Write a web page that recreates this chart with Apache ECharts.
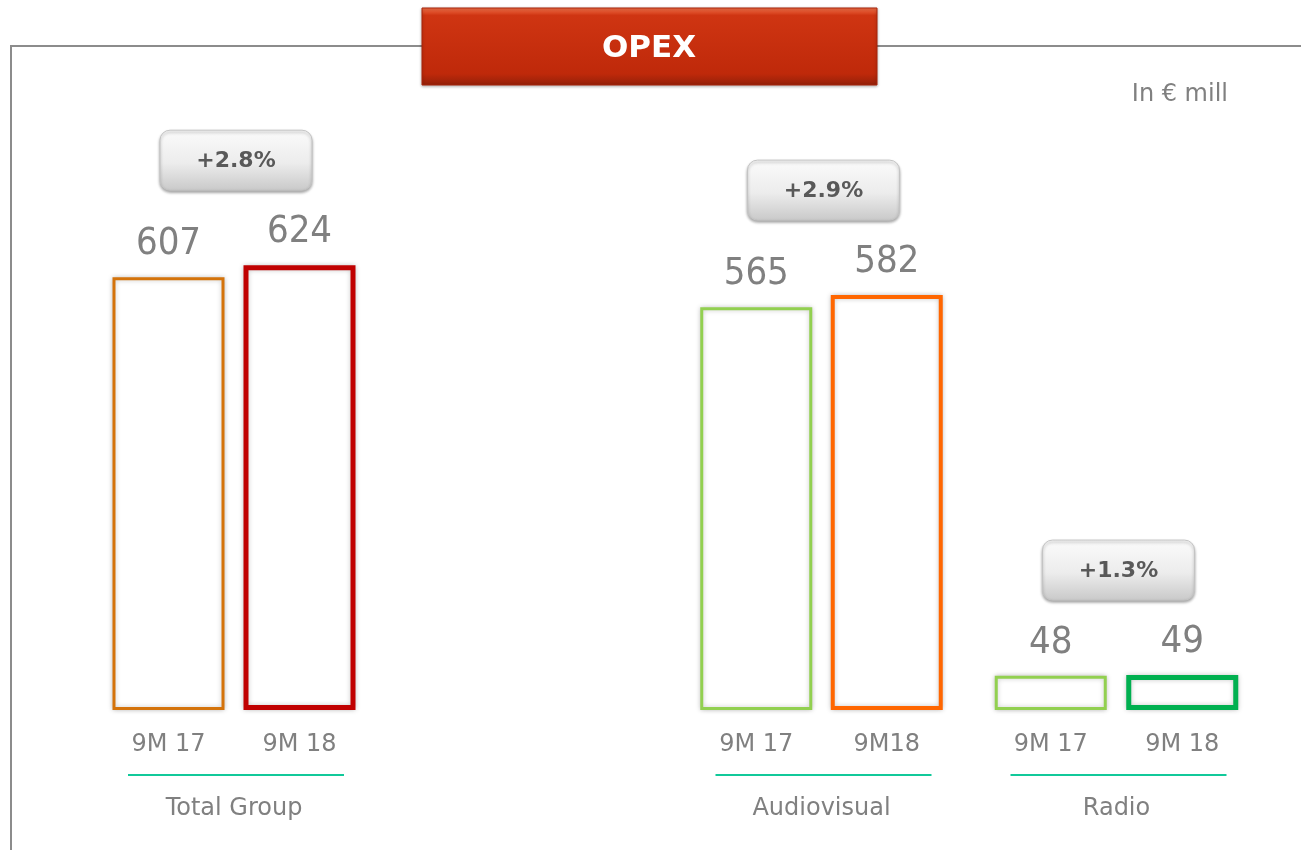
<!DOCTYPE html>
<html>
<head>
<meta charset="utf-8">
<script src="https://cdn.jsdelivr.net/npm/echarts@6/dist/echarts.min.js"></script>
<style>
  html, body { margin: 0; padding: 0; background: #fff; }
  #main { width: 1301px; height: 850px; }
</style>
</head>
<body>
<div id="main"></div>
<script>
// data
const groupNames = ['Total Group', 'Audiovisual', 'Radio'];
const periodLabels = [['9M 17', '9M 18'], ['9M 17', '9M18'], ['9M 17', '9M 18']];
const totalGroupValues = [607, 624];
const audiovisualValues = [565, 582];
const radioValues = [48, 49];
const growthLabels = ['+2.8%', '+2.9%', '+1.3%'];
const unitLabel = 'In € mill';
const titleText = 'OPEX';

const groupValues = [totalGroupValues, audiovisualValues, radioValues];
const barColors = [['#D4730B', '#C00000'], ['#92D050', '#FF6600'], ['#92D050', '#00B050']];
const borderWidths = [[3, 5], [3, 4], [3, 5]];
const gridBoxes = [[103, 262], [691, 261], [985, 263]];

const gray = '#808080';
const textFont = 'DejaVu Sans, Verdana, sans-serif';
const numFont = '"Liberation Sans Narrow", "DejaVu Sans Condensed", sans-serif';

const chart = echarts.init(document.getElementById('main'));

const grids = gridBoxes.map(b => ({ left: b[0], width: b[1], top: 211, bottom: 140 }));

const xAxes = periodLabels.map((labels, i) => ({
  type: 'category',
  gridIndex: i,
  data: labels,
  axisLine: { show: false },
  axisTick: { show: false },
  axisLabel: { color: gray, fontSize: 24, fontFamily: textFont, margin: 23 },
  name: groupNames[i],
  nameLocation: 'middle',
  nameGap: 87,
  nameTextStyle: { color: gray, fontSize: 24, fontFamily: textFont }
}));

const yAxes = groupNames.map((n, i) => ({
  type: 'value', gridIndex: i, min: 0, max: 700, show: false
}));

const series = groupValues.map((vals, i) => ({
  type: 'bar',
  xAxisIndex: i,
  yAxisIndex: i,
  barWidth: 112,
  data: vals.map((v, j) => ({
    value: v,
    itemStyle: {
      color: '#fff',
      borderColor: barColors[i][j],
      borderWidth: borderWidths[i][j],
      shadowBlur: 5,
      shadowColor: 'rgba(0,0,0,0.22)'
    }
  })),
  label: {
    show: true,
    position: 'top',
    distance: 14,
    color: gray,
    fontSize: 38,
    fontFamily: numFont
  },
  silent: true
}));

chart.setOption({
  animation: false,
  grid: grids,
  xAxis: xAxes,
  yAxis: yAxes,
  series: series
});

// decorations placed from the chart's own scales
const graphics = [
  // frame
  { type: 'polyline', shape: { points: [[11, 850], [11, 46], [422, 46]] }, style: { stroke: '#8c8c8c', lineWidth: 2, fill: null } },
  { type: 'line', shape: { x1: 877, y1: 46, x2: 1301, y2: 46 }, style: { stroke: '#8c8c8c', lineWidth: 2 } },
  // title box
  {
    type: 'rect', shape: { x: 422, y: 8, width: 455, height: 77 },
    style: {
      fill: new echarts.graphic.LinearGradient(0, 0, 0, 1, [
        { offset: 0, color: '#f7754c' },
        { offset: 0.1, color: '#cf3512' },
        { offset: 0.85, color: '#bf290a' },
        { offset: 1, color: '#932009' }
      ]),
      stroke: '#a8250b', lineWidth: 1,
      shadowBlur: 3, shadowColor: 'rgba(0,0,0,0.3)', shadowOffsetY: 1
    }
  },
  {
    type: 'text', x: 649, y: 49,
    style: { text: titleText, fill: '#fff', font: 'bold 31px ' + textFont, align: 'center', verticalAlign: 'middle' }
  },
  {
    type: 'text', x: 1228, y: 95,
    style: { text: unitLabel, fill: gray, font: '24px ' + textFont, align: 'right', verticalAlign: 'middle' }
  }
];

groupValues.forEach((vals, i) => {
  const p0 = chart.convertToPixel({ gridIndex: i }, [periodLabels[i][0], vals[0]]);
  const p1 = chart.convertToPixel({ gridIndex: i }, [periodLabels[i][1], vals[1]]);
  const base = chart.convertToPixel({ gridIndex: i }, [periodLabels[i][0], 0]);
  const midX = (p0[0] + p1[0]) / 2 + 2;
  const topY = Math.min(p0[1], p1[1]);
  graphics.push({
    type: 'line',
    shape: { x1: midX - 108, y1: base[1] + 65, x2: midX + 108, y2: base[1] + 65 },
    style: { stroke: '#11C99A', lineWidth: 2 }
  });
  graphics.push({
    type: 'rect',
    shape: { x: midX - 76, y: topY - 135, width: 152, height: 60, r: 10 },
    style: {
      fill: new echarts.graphic.LinearGradient(0, 0, 0, 1, [
        { offset: 0, color: '#fbfbfb' },
        { offset: 0.55, color: '#ececec' },
        { offset: 1, color: '#c9c9c9' }
      ]),
      stroke: '#c4c4c4', lineWidth: 1,
      shadowBlur: 3, shadowOffsetY: 2, shadowColor: 'rgba(0,0,0,0.35)'
    }
  });
  graphics.push({
    type: 'text', x: midX, y: topY - 104,
    style: { text: growthLabels[i], fill: '#595959', font: 'bold 22px ' + textFont, align: 'center', verticalAlign: 'middle' }
  });
});

chart.setOption({ graphic: graphics });
</script>
</body>
</html>
